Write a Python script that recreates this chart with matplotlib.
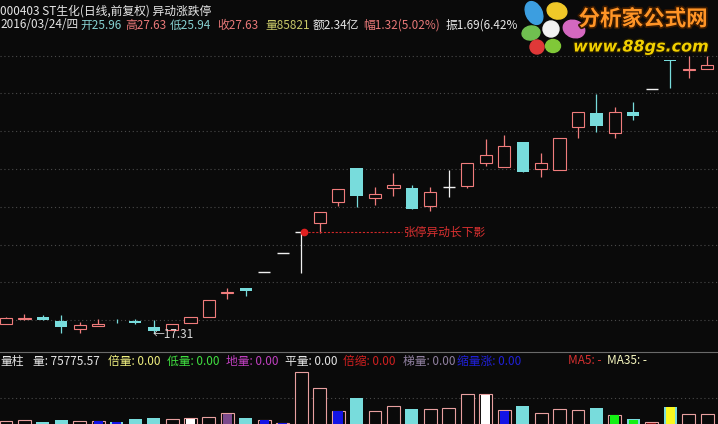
import matplotlib
matplotlib.use("Agg")
import matplotlib.pyplot as plt
import matplotlib.patheffects as pe
from matplotlib.patches import Ellipse, Circle

plt.rcParams['font.family'] = ['Noto Sans CJK SC', 'DejaVu Sans']

# daily bars, oldest first (price)
opens = [17.80, 18.08, 18.16, 17.98, 17.55, 17.70, 17.92, 17.98, 17.63, 17.48,
         17.84, 18.16, 19.43, 19.72, 20.54, 21.57, 22.65, 23.13, 24.27, 26.04,
         24.45, 24.98, 24.98, 24.06, 25.05, 25.12, 26.34, 26.12, 27.45, 25.99,
         25.96, 28.24, 28.98, 27.89, 29.03, 30.26, 31.77, 31.25, 31.28]
highs = [18.17, 18.33, 18.28, 18.28, 17.92, 18.07, 18.08, 18.05, 18.01, 17.79,
         18.16, 19.07, 19.72, 19.72, 20.54, 21.57, 22.65, 23.74, 24.93, 26.04,
         25.07, 25.81, 25.16, 25.03, 25.95, 26.30, 27.59, 27.80, 27.45, 26.83,
         27.63, 29.00, 29.96, 29.27, 29.53, 30.26, 31.77, 31.98, 31.98]
lows = [17.78, 18.01, 18.00, 17.34, 17.34, 17.68, 17.84, 17.80, 17.31, 17.46,
        17.84, 18.16, 19.11, 19.28, 20.54, 21.57, 20.49, 22.63, 24.05, 24.01,
        24.10, 24.57, 23.89, 23.80, 24.51, 25.01, 26.18, 26.12, 25.86, 25.60,
        25.94, 27.66, 27.98, 27.66, 28.60, 30.26, 30.30, 30.80, 31.28]
closes = [18.10, 18.10, 18.01, 17.66, 17.75, 17.80, 17.89, 17.84, 17.45, 17.79,
          18.16, 19.07, 19.47, 19.56, 20.54, 21.57, 22.65, 23.74, 24.93, 24.59,
          24.68, 25.16, 23.89, 24.77, 25.05, 26.30, 26.74, 27.22, 25.86, 26.30,
          27.63, 29.00, 28.29, 29.00, 28.82, 30.26, 31.74, 31.30, 31.51]

volumes = [70800, 72100, 69900, 72400, 70800, 71200, 69900, 73300, 74600, 73300,
           74200, 76300, 80700, 74400, 72100, 68800, 133500, 112900, 83900, 100800,
           83700, 90100, 85800, 85900, 87100, 105300, 105200, 84900, 90100, 81500,
           85821, 84900, 87100, 78500, 73300, 69100, 88800, 80400, 80400]
# volume signal per bar (缩量涨 / 平量 / 地量 / 低量 / 倍缩 / 倍量)
vol_flags = ['', '', '', '', '', 'blue', 'blue', '', '', '',
             'white', '', 'purple', '', 'blue', 'blue', '', '', 'blue', '',
             '', '', '', '', '', '', 'white', 'blue', '', '',
             '', '', '', 'green', 'green', 'darkred', 'yellow', '', '']

signal_bar = 16
signal_text = "张停异动长下影"

title = "000403 ST生化(日线,前复权) 异动涨跌停"
info_items = ["2016/03/24/四", "开25.96", "高27.63", "低25.94", "收27.63",
              "量85821", "额2.34亿", "幅1.32(5.02%)", "振1.69(6.42%"]
vol_items = ["量柱", "量: 75775.57", "倍量: 0.00", "低量: 0.00", "地量: 0.00",
             "平量: 0.00", "倍缩: 0.00", "梯量: 0.00", "缩量涨: 0.00", "MA5: -", "MA35: -"]

price_grid = [18, 20, 22, 24, 26, 28, 30, 32]
vol_grid = [100000]

BG = '#0a0a0a'
UP = '#f07c7c'
VOL_UP = '#e8a0a0'
DOWN = '#78dcdc'
FLAT = '#f0f0f0'
GRID = '#4a4a4a'
flag_colors = {'blue': '#1414e6', 'white': '#ffffff', 'purple': '#7c4a8c',
               'green': '#14f014', 'yellow': '#f8f820', 'darkred': '#8c1414'}

n = len(closes)
W, H = 718, 424

fig = plt.figure(figsize=(W / 100, H / 100), dpi=100)
fig.patch.set_facecolor(BG)

# price panel covers pixel rows 0..350, volume panel rows 352..424
ax = fig.add_axes([0, 74 / H, 1, 350 / H])
ax_vol = fig.add_axes([0, 0, 1, 72 / H])
for a in (ax, ax_vol):
    a.set_facecolor(BG)
    a.set_xlim(-0.325, 38.59)
    a.set_xticks([])
    a.set_yticks([])
    for s in a.spines.values():
        s.set_visible(False)
ax.set_ylim(16.426, 34.945)
ax_vol.set_ylim(66900, 159700)
ax_vol.spines['top'].set_visible(True)
ax_vol.spines['top'].set_color('#6a6a6a')
ax_vol.spines['top'].set_linewidth(0.8)

for g in price_grid:
    ax.axhline(g, color=GRID, lw=0.8, ls=(0, (1, 2.5)), zorder=1)
for g in vol_grid:
    ax_vol.axhline(g, color=GRID, lw=0.8, ls=(0, (1, 2.5)), zorder=1)

# candles
bw = 0.66
for i in range(n):
    o, h, l, c = opens[i], highs[i], lows[i], closes[i]
    if c > o:
        ax.bar(i, c - o, bottom=o, width=bw, facecolor=BG, edgecolor=UP, linewidth=0.8, zorder=3)
        ax.vlines(i, c, h, color=UP, lw=0.9, zorder=3)
        ax.vlines(i, l, o, color=UP, lw=0.9, zorder=3)
    elif c < o:
        ax.bar(i, o - c, bottom=c, width=bw, color=DOWN, linewidth=0, zorder=3)
        ax.vlines(i, l, h, color=DOWN, lw=0.9, zorder=2)
    else:
        ax.hlines(o, i - bw / 2, i + bw / 2, color=FLAT, lw=1.0, zorder=3)
        ax.vlines(i, l, h, color=FLAT, lw=0.9, zorder=3)

# lowest low marker
k = lows.index(min(lows))
ax.text(k - 0.05, lows[k] - 0.08, "←%.2f" % lows[k], color='#d8d8d8',
        fontsize=8.5, ha='left', va='center', zorder=4)

# signal annotation
sx = signal_bar + 0.15
sy = closes[signal_bar]
ax.plot([sx, 21.45], [sy, sy], color='#d02828', lw=0.8, ls=(0, (2, 1.5)), zorder=4)
ax.plot(sx, sy, 'o', color='#e02020', ms=4.5, zorder=5)
ax.text(21.55, sy, signal_text, color='#d83030', fontsize=8.5, ha='left', va='center', zorder=5)

# volume bars
for i in range(n):
    v = volumes[i]
    if closes[i] >= opens[i]:
        ax_vol.bar(i, v, width=0.7, facecolor=BG, edgecolor=VOL_UP, linewidth=0.8, zorder=3)
    else:
        ax_vol.bar(i, v, width=0.7, color=DOWN, linewidth=0, zorder=3)
    if vol_flags[i]:
        ax_vol.bar(i, v - 600, width=0.5, color=flag_colors[vol_flags[i]], linewidth=0, zorder=4)

# overlay in pixel coordinates for header texts and the logo
top = fig.add_axes([0, 0, 1, 1], zorder=10)
top.set_xlim(0, W)
top.set_ylim(H, 0)
top.axis('off')
top.patch.set_alpha(0)

fs = 8.5
top.text(0, 11, title, color='#e6e6e6', fontsize=fs, va='center')

info_x = [0, 80, 125, 170, 217, 265, 313, 363, 446]
info_colors = ['#e6e6e6', '#86d0d0', '#e87878', '#86d0d0', '#e87878',
               '#c8c868', '#e6e6e6', '#e87878', '#e6e6e6']
for t, x, col in zip(info_items, info_x, info_colors):
    top.text(x, 25, t, color=col, fontsize=fs, va='center')

vol_x = [0, 33, 108, 167, 226, 285, 343, 403, 457, 568, 607]
vol_colors = ['#e6e6e6', '#e6e6e6', '#f0f080', '#40e040', '#c040c0', '#e6e6e6',
              '#d02020', '#9080a0', '#2020d8', '#d83030', '#f8f8c0']
for t, x, col in zip(vol_items, vol_x, vol_colors):
    top.text(x, 361, t, color=col, fontsize=fs, va='center')

# logo
top.add_patch(Ellipse((534, 13), 16, 24, angle=-25, color='#3c9ee0'))
top.add_patch(Ellipse((557, 11), 20, 16, angle=15, color='#f0c828'))
top.add_patch(Ellipse((574, 29), 22, 17, angle=20, color='#d468c0'))
top.add_patch(Ellipse((531, 33), 18, 14, angle=-10, color='#70c050'))
top.add_patch(Ellipse((537, 47), 14, 14, color='#e03838'))
top.add_patch(Ellipse((553, 46), 15, 13, color='#80c838'))
top.add_patch(Circle((551, 29), 8, color='#f2f2f2'))
top.text(643, 19, "分析家公式网", color='#ff9426', fontsize=15.5, fontweight='bold',
         ha='center', va='center',
         path_effects=[pe.withStroke(linewidth=2.5, foreground='#3a1a00')])
top.text(641, 47, "www.88gs.com", color='#f2d000', fontsize=11.5, fontweight='bold',
         style='italic', family='DejaVu Sans', ha='center', va='center',
         path_effects=[pe.withStroke(linewidth=2, foreground='#201800')])

fig.savefig("out.png", dpi=100, facecolor=BG)
